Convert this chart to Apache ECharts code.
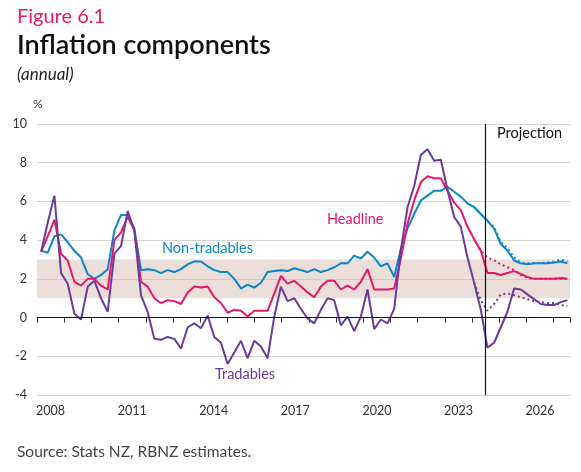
<!DOCTYPE html>
<html><head><meta charset="utf-8">
<script src="https://cdn.jsdelivr.net/npm/echarts@6/dist/echarts.min.js"></script>
<style>body{margin:0}#c{width:581px;height:472px}</style>
</head><body><div id="c"></div>
<script>
// quarterly, first point ~2008.15
var START = 2008.15, STEP = 0.245;
var PROJ = 2024.48;
var nonTradables = [3.45,3.35,4.2,4.3,3.9,3.45,3.1,2.25,2.0,2.2,2.5,4.5,5.3,5.3,4.6,2.45,2.5,2.45,2.3,2.45,2.35,2.5,2.75,2.9,2.9,2.65,2.45,2.35,2.35,2.0,1.5,1.7,1.55,1.8,2.35,2.4,2.45,2.4,2.55,2.45,2.35,
  2.5,2.35,2.45,2.6,2.8,2.8,3.2,3.05,3.4,3.1,2.65,2.8,2.1,
  3.55,4.6,5.35,6.05,6.3,6.55,6.55,6.75,6.5,6.25,5.9,5.7,5.35,5.0,4.6,3.8,3.45,2.95,2.8,2.75,2.8,2.8,2.8,2.85,2.9,2.8];
var headline = [3.4,4.2,5.05,3.3,2.95,1.85,1.65,2.0,2.0,1.65,1.45,4.0,4.4,5.2,4.5,1.85,1.6,1.0,0.75,0.9,0.85,0.7,1.3,1.6,1.55,1.6,1.05,0.75,0.25,0.4,0.35,0.05,0.35,0.35,0.35,1.25,2.15,1.75,1.9,1.6,1.3,
  1.05,1.6,1.9,1.9,1.45,1.65,1.45,1.85,2.5,1.45,1.45,1.45,1.5,
  3.05,4.85,6.05,7.0,7.3,7.2,7.2,6.55,5.95,5.55,4.7,4.05,3.45,2.3,2.3,2.2,2.3,2.4,2.25,2.1,2.0,2.0,2.0,2.0,2.05,2.0];
var tradables = [3.4,4.9,6.3,2.3,1.75,0.2,-0.1,1.6,1.9,1.0,0.3,3.3,3.7,5.5,4.5,1.15,0.3,-1.1,-1.15,-1.0,-1.1,-1.6,-0.5,-0.3,-0.55,0.1,-1.0,-1.3,-2.4,-1.8,-1.2,-2.1,-1.2,-1.5,-2.1,0.05,1.6,0.85,1.0,0.45,-0.05,
  -0.3,0.4,1.0,0.9,-0.4,0.05,-0.7,0.05,1.45,-0.6,-0.1,-0.3,0.45,
  3.5,5.7,6.8,8.4,8.7,8.1,8.15,6.6,5.2,4.7,3.1,1.8,0.4,-1.55,-1.3,-0.5,0.3,1.5,1.45,1.2,0.95,0.7,0.65,0.65,0.8,0.9];
// previous projections (dotted), from index 65
var DOT_FROM = 65;
var headlinePrev = [4.05,3.45,3.1,2.95,2.75,2.6,2.45,2.2,2.05,2.0,2.0,2.0,2.0,2.0,2.0];
var tradablesPrev = [1.8,0.9,0.35,0.7,1.2,1.25,1.15,1.05,0.95,0.85,0.8,0.75,0.75,0.65,0.6];
var nonTradablesPrev = [5.7,5.35,5.0,4.65,3.9,3.6,3.1,2.85,2.8,2.8,2.8,2.85,2.9,3.0,2.9];
var yearLabels = [2008,2011,2014,2017,2020,2023,2026];

function pts(arr, from) {
  from = from || 0;
  return arr.map(function (v, i) { return [START + (from + i) * STEP, v]; });
}
var BLUE = '#0a86c9', PINK = '#e8176c', PURPLE = '#6a3a9c';
function line(data, color, dotted) {
  return {type: 'line', data: data, symbol: 'none', z: dotted ? 3 : 4,
    lineStyle: {color: color, width: 2, type: dotted ? [2, 3] : 'solid'}};
}
var chart = echarts.init(document.getElementById('c'));
chart.setOption({
  animation: false,
  textStyle: {fontFamily: 'Lato'},
  grid: {left: 37, right: 11, top: 124, bottom: 77},
  xAxis: [{
    type: 'value', min: 2008, max: 2027.6, interval: 1,
    axisLine: {lineStyle: {color: '#333'}}, axisTick: {show: true, length: 5, lineStyle: {color: '#333'}},
    axisLabel: {show: false}, splitLine: {show: false}
  }, {
    // labels centred on each year
    type: 'value', min: 2008, max: 2027.6, interval: 0.5, position: 'bottom',
    axisLine: {show: false}, axisTick: {show: false}, splitLine: {show: false},
    axisLabel: {color: '#333', fontSize: 12.5, margin: 9, showMaxLabel: false, formatter: function (v) {
      var y = Math.floor(v);
      return yearLabels.indexOf(y) >= 0 && Math.abs(v - y - 0.5) < 0.01 ? String(y) : '';
    }}
  }],
  yAxis: {
    type: 'value', min: -4, max: 10, interval: 2,
    axisLine: {show: false}, axisTick: {show: false},
    axisLabel: {color: '#333', fontSize: 12.5, margin: 10},
    splitLine: {lineStyle: {color: '#d4d4d4', width: 1.2}}
  },
  graphic: [
    {type: 'text', left: 17, top: 7, style: {text: 'Figure 6.1', fill: PINK, font: '20px Lato'}},
    {type: 'text', left: 17, top: 32, style: {text: 'Inflation components', fill: '#111', font: '600 27px Lato'}},
    {type: 'text', left: 17, top: 66, style: {text: '(annual)', fill: '#222', font: 'italic 17px Lato'}},
    {type: 'text', left: 33, top: 98, style: {text: '%', fill: '#333', font: '12px Lato'}},
    {type: 'text', left: 17, top: 444, style: {text: 'Source: Stats NZ, RBNZ estimates.', fill: '#444', font: '15.5px Lato'}},
    {type: 'text', left: 162, top: 241, style: {text: 'Non-tradables', fill: BLUE, font: '14.5px Lato'}},
    {type: 'text', left: 327, top: 212, style: {text: 'Headline', fill: PINK, font: '14.5px Lato'}},
    {type: 'text', left: 215, top: 367, style: {text: 'Tradables', fill: PURPLE, font: '14.5px Lato'}},
    {type: 'text', left: 497, top: 126, style: {text: 'Projection', fill: '#111', font: '14.5px Lato'}}
  ],
  series: [
    {type: 'line', data: [], markArea: {silent: true, itemStyle: {color: 'rgba(215,190,178,0.5)'},
      data: [[{yAxis: 1}, {yAxis: 3}]]},
     markLine: {silent: true, symbol: 'none', label: {show: false}, lineStyle: {color: '#111', width: 1.2, type: 'solid'},
      data: [{yAxis: 0}, {xAxis: PROJ}]}},
    line(pts(nonTradablesPrev, DOT_FROM), BLUE, true),
    line(pts(headlinePrev, DOT_FROM), PINK, true),
    line(pts(tradablesPrev, DOT_FROM), PURPLE, true),
    line(pts(nonTradables), BLUE),
    line(pts(headline), PINK),
    line(pts(tradables), PURPLE)
  ]
});
</script></body></html>
